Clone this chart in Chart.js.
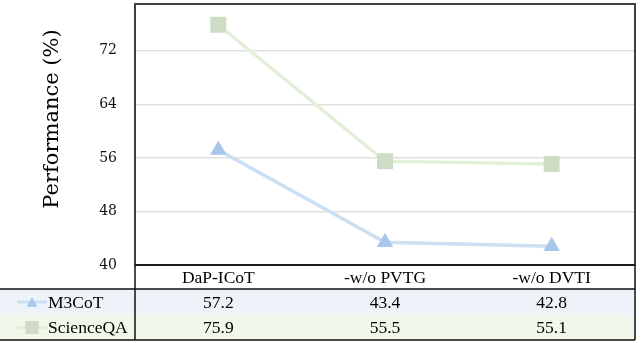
<!doctype html>
<html lang="en">
<head>
<meta charset="utf-8">
<title>Ablation performance</title>
<script src="https://cdn.jsdelivr.net/npm/chart.js@4.4.1/dist/chart.umd.min.js"></script>
<style>
  html, body { margin: 0; padding: 0; background: #fff; }
  #wrap { width: 641px; height: 343px; }
</style>
</head>
<body>
<div id="wrap"><canvas id="perfChart" width="641" height="343"></canvas></div>

<script>
// data
var categories = ['DaP-ICoT', '-w/o PVTG', '-w/o DVTI'];
var seriesNames = ['M3CoT', 'ScienceQA'];
var m3cotValues = [57.2, 43.4, 42.8];
var scienceqaValues = [75.9, 55.5, 55.1];
var yTicks = [40, 48, 56, 64, 72];
var yTitle = 'Performance (%)';

var blueLine = '#cddff3', blueMark = '#a7c8ec', blueRow = '#eef3fa';
var greenLine = '#e3f0d9', greenMark = '#cedcc6', greenRow = '#f2f7ec';

// draws the frame, y title and the data table under the plot
var tablePlugin = {
  id: 'dataTable',
  afterDraw: function(chart) {
    var ctx = chart.ctx;
    var ca = chart.chartArea;
    var x = chart.scales.x;
    var top = ca.bottom;
    var rowTops = [top, top + 24, top + 50, top + 75];

    ctx.save();
    // row backgrounds
    ctx.fillStyle = blueRow;
    ctx.fillRect(0, rowTops[1], ca.right, rowTops[2] - rowTops[1]);
    ctx.fillStyle = greenRow;
    ctx.fillRect(0, rowTops[2], ca.right, rowTops[3] - rowTops[2]);

    // plot frame
    ctx.strokeStyle = '#404040';
    ctx.lineWidth = 2;
    ctx.strokeRect(ca.left, ca.top, ca.right - ca.left, ca.bottom - ca.top);

    // table lines
    ctx.strokeStyle = '#111';
    ctx.lineWidth = 1.5;
    ctx.beginPath();
    ctx.moveTo(ca.left, rowTops[0]); ctx.lineTo(ca.right, rowTops[0]);
    ctx.moveTo(0, rowTops[1]); ctx.lineTo(ca.right, rowTops[1]);
    ctx.moveTo(0, rowTops[3]); ctx.lineTo(ca.right, rowTops[3]);
    ctx.moveTo(ca.left, rowTops[0]); ctx.lineTo(ca.left, rowTops[3]);
    ctx.moveTo(ca.right, rowTops[0]); ctx.lineTo(ca.right, rowTops[3]);
    ctx.stroke();

    // text
    ctx.fillStyle = '#000';
    ctx.font = '17.5px "Liberation Serif"';
    ctx.textAlign = 'center';
    ctx.textBaseline = 'middle';
    var rows = [m3cotValues, scienceqaValues];
    categories.forEach(function(c, i) {
      var cx = x.getPixelForValue(i);
      ctx.fillText(c, cx, (rowTops[0] + rowTops[1]) / 2 + 1);
      rows.forEach(function(vals, r) {
        ctx.fillText(vals[i].toFixed(1), cx, (rowTops[r + 1] + rowTops[r + 2]) / 2 + 1);
      });
    });

    // legend keys in the first column
    var styles = [
      {line: blueLine, mark: blueMark, shape: 'triangle', radius: 6},
      {line: greenLine, mark: greenMark, shape: 'rect', radius: 9}
    ];
    seriesNames.forEach(function(name, r) {
      var cy = (rowTops[r + 1] + rowTops[r + 2]) / 2;
      var st = styles[r];
      ctx.strokeStyle = st.line;
      ctx.lineWidth = 3;
      ctx.beginPath();
      ctx.moveTo(17, cy); ctx.lineTo(47, cy);
      ctx.stroke();
      ctx.fillStyle = st.mark;
      Chart.helpers.drawPoint(ctx, {pointStyle: st.shape, radius: st.radius, borderWidth: 0}, 32, cy + (st.shape === 'triangle' ? 1.5 : 0));
      ctx.fill();
      ctx.fillStyle = '#000';
      ctx.textAlign = 'left';
      ctx.fillText(name, 48, cy + 1);
    });

    // y axis title
    ctx.translate(53, 119);
    ctx.rotate(-Math.PI / 2);
    ctx.textAlign = 'center';
    ctx.font = '21px "DejaVu Serif"';
    ctx.fillText(yTitle, 0, 0);
    ctx.restore();
  }
};

var ctx = document.getElementById('perfChart').getContext('2d');
var perfChart = new Chart(ctx, {
  type: 'line',
  data: {
    labels: categories,
    datasets: [{
      label: seriesNames[0],
      data: m3cotValues,
      borderColor: blueLine,
      borderWidth: 3.5,
      pointStyle: 'triangle',
      pointRadius: 9.5,
      pointBackgroundColor: blueMark,
      pointBorderWidth: 0,
      tension: 0
    }, {
      label: seriesNames[1],
      data: scienceqaValues,
      borderColor: greenLine,
      borderWidth: 3.5,
      pointStyle: 'rect',
      pointRadius: 11.3,
      pointBackgroundColor: greenMark,
      pointBorderWidth: 0,
      tension: 0
    }]
  },
  options: {
    responsive: false,
    animation: false,
    layout: { autoPadding: false, padding: { left: 0, top: 4, right: 6, bottom: 78 } },
    plugins: { legend: { display: false }, tooltip: { enabled: false } },
    scales: {
      x: { display: false, offset: true },
      y: {
        min: 40,
        max: 79,
        afterBuildTicks: function(scale) {
          scale.ticks = yTicks.map(function(v) { return {value: v}; });
        },
        afterFit: function(scale) {
          scale.width = 135;
          scale.paddingTop = 0;
          scale.paddingBottom = 0;
        },
        border: { display: false },
        grid: { color: '#e0e0e0', lineWidth: 1.5, drawTicks: false },
        ticks: {
          padding: 18,
          color: '#111',
          font: { family: 'DejaVu Serif', size: 14 }
        }
      }
    }
  },
  plugins: [tablePlugin]
});
</script>
</body>
</html>
